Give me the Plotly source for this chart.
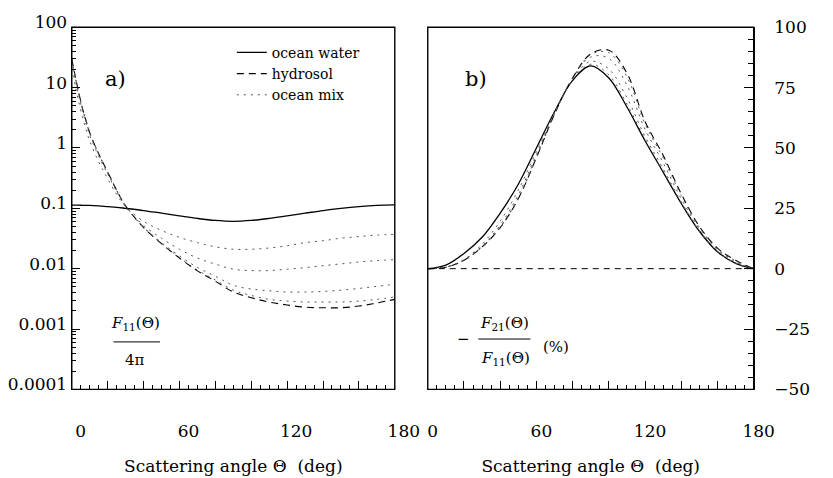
import plotly.graph_objects as go

# ---------------- data ----------------
# Panel a: F11/(4 pi) versus scattering angle
theta_a = [0, 2, 4, 6, 8, 10, 15, 20, 25, 30, 40, 50, 60, 70, 80, 90,
           100, 110, 120, 130, 140, 150, 160, 170, 180]
f11_water = [0.113, 0.113, 0.113, 0.112, 0.112, 0.112, 0.110, 0.107, 0.104, 0.100,
             0.092, 0.083, 0.075, 0.068, 0.063, 0.061, 0.063, 0.068, 0.075, 0.083,
             0.092, 0.100, 0.107, 0.112, 0.114]
f11_hydrosol = [30, 15, 8, 4.5, 2.8, 1.8, 0.8, 0.4, 0.2, 0.11,
                0.048, 0.026, 0.015, 0.0092, 0.0062, 0.0041, 0.0033, 0.0028, 0.0025, 0.0023,
                0.00225, 0.00225, 0.0024, 0.0027, 0.0031]
f11_mix1 = [21, 10.5, 5.6, 3.2, 2.0, 1.3, 0.59, 0.31, 0.17, 0.107,
            0.061, 0.043, 0.033, 0.027, 0.023, 0.021, 0.021, 0.022, 0.024, 0.027,
            0.029, 0.032, 0.034, 0.036, 0.037]
f11_mix2 = [27, 13.5, 7.2, 4.1, 2.5, 1.63, 0.73, 0.37, 0.19, 0.109,
            0.052, 0.032, 0.021, 0.015, 0.0119, 0.0098, 0.0093, 0.0093, 0.0098, 0.0104,
            0.0112, 0.0120, 0.0129, 0.0136, 0.0141]
f11_mix3 = [29.3, 14.7, 7.8, 4.4, 2.74, 1.76, 0.78, 0.39, 0.198, 0.11,
            0.049, 0.027, 0.0163, 0.0105, 0.0075, 0.0053, 0.0046, 0.0043, 0.0041, 0.0041,
            0.0042, 0.0044, 0.0047, 0.0051, 0.0055]
f11_mix4 = [29.8, 14.9, 7.95, 4.48, 2.79, 1.79, 0.8, 0.4, 0.2, 0.11,
            0.048, 0.026, 0.0153, 0.0095, 0.0065, 0.0044, 0.0036, 0.0031, 0.0029, 0.0028,
            0.0028, 0.0028, 0.0029, 0.0031, 0.0034]

# Panel b: -F21/F11 (%) versus scattering angle
theta_b = [0, 10, 20, 30, 40, 50, 60, 70, 80, 90, 100, 110, 120, 130, 140, 150, 160, 170, 180]
pol_water = [0, 1.5, 6.3, 13, 23, 35, 50, 65, 78, 84, 79, 67, 53, 40, 27, 15.5, 7, 2.2, 0]
pol_hydrosol = [0, 0.6, 3.5, 9, 17, 29, 46, 64, 79, 89, 90.5, 81, 61, 47, 31, 17.5, 8.5, 3.5, 0]
pol_mix1 = [0, 0.6, 3.8, 10.1, 19.7, 32.5, 48.7, 64.6, 78.2, 84.7, 80.3, 68.2, 53.6, 40.4, 27.2, 15.6, 7.1, 2.3, 0]
pol_mix2 = [0, 0.6, 3.6, 9.4, 18.1, 30.6, 47.4, 64.5, 78.5, 85.9, 82.7, 70.8, 54.8, 41.4, 27.7, 15.8, 7.3, 2.4, 0]
pol_mix3 = [0, 0.6, 3.5, 9.1, 17.3, 29.4, 46.4, 64.2, 78.8, 87.7, 87.1, 76.0, 57.8, 43.9, 28.9, 16.5, 7.8, 2.8, 0]
pol_mix4 = [0, 0.6, 3.5, 9.0, 17.1, 29.1, 46.1, 64.1, 78.9, 88.7, 89.5, 79.5, 60.0, 45.9, 30.3, 17.1, 8.2, 3.2, 0]

x_tickvals = [0, 20, 40, 60, 80, 100, 120, 140, 160, 180]
x_ticktext = ["0", "", "", "60", "", "", "120", "", "", "180"]

# ---------------- styling ----------------
FONT = "DejaVu Serif"
BLACK = "black"
SOLID = dict(color=BLACK, width=1.3)
DASH = dict(color=BLACK, width=1.1, dash="7px,5px")
DOT = dict(color="#555555", width=1.0, dash="2px,5px")

fig = go.Figure()
fig.add_trace(go.Scatter(x=theta_a, y=f11_water, mode="lines", line=SOLID,
                         name="ocean water", line_shape="spline", xaxis="x", yaxis="y"))
fig.add_trace(go.Scatter(x=theta_a, y=f11_hydrosol, mode="lines", line=DASH,
                         name="hydrosol", line_shape="spline", xaxis="x", yaxis="y"))
for i, ys in enumerate([f11_mix1, f11_mix2, f11_mix3, f11_mix4]):
    fig.add_trace(go.Scatter(x=theta_a, y=ys, mode="lines", line=DOT,
                             name="ocean mix", showlegend=(i == 0), line_shape="spline",
                             xaxis="x", yaxis="y"))
fig.add_trace(go.Scatter(x=theta_b, y=pol_water, mode="lines", line=SOLID, showlegend=False,
                         line_shape="spline", xaxis="x2", yaxis="y2"))
fig.add_trace(go.Scatter(x=theta_b, y=pol_hydrosol, mode="lines", line=DASH, showlegend=False,
                         line_shape="spline", xaxis="x2", yaxis="y2"))
for ys in [pol_mix1, pol_mix2, pol_mix3, pol_mix4]:
    fig.add_trace(go.Scatter(x=theta_b, y=ys, mode="lines", line=DOT, showlegend=False,
                             line_shape="spline", xaxis="x2", yaxis="y2"))

# zero reference line in panel b
fig.add_shape(type="line", xref="x2 domain", yref="y2", x0=0, x1=1, y0=0, y1=0,
              line=dict(color=BLACK, width=1, dash="6px,5px"))

W, H = 833, 478
ydom = [1 - 395 / H, 1 - 13 / H]
tf = dict(family=FONT, size=17, color=BLACK)
LINE = dict(showline=True, linecolor=BLACK, linewidth=1.4, showgrid=False, zeroline=False)
XTITLE = dict(text="Scattering angle \u0398  (deg)",
              font=dict(family=FONT, size=17, color=BLACK), standoff=20)


def x_axis(anchor, domain, shift):
    return dict(anchor=anchor, domain=domain, side="bottom", range=[0, 180],
                tickvals=x_tickvals, ticktext=x_ticktext,
                ticks="inside", ticklen=8, tickwidth=1, tickcolor=BLACK,
                minor=dict(ticks="inside", dtick=5, ticklen=4, tickwidth=1, tickcolor=BLACK),
                tickfont=tf, ticklabelstandoff=26, ticklabelshift=shift,
                title=XTITLE, **LINE)


fig.update_layout(
    width=W, height=H,
    margin=dict(l=0, r=0, t=0, b=0),
    paper_bgcolor="white", plot_bgcolor="rgba(0,0,0,0)",
    font=dict(family=FONT, color=BLACK),
    hovermode=False,
    xaxis=x_axis("y", [74 / W, 407 / W], 9),
    xaxis2=x_axis("y2", [441 / W, 777 / W], 5),
    yaxis=dict(anchor="x", domain=ydom, side="left", type="log", range=[-4, 2], dtick=1,
               exponentformat="none", ticks="inside", ticklen=8, tickwidth=1, tickcolor=BLACK,
               minor=dict(ticks="inside", dtick="D1", ticklen=4, tickwidth=1, tickcolor=BLACK),
               tickfont=tf, ticklabelshift=-5, **LINE),
    yaxis2=dict(anchor="x2", domain=ydom, side="right", range=[-50, 100], tick0=0, dtick=25,
                ticks="inside", ticklen=9, tickwidth=1, tickcolor=BLACK,
                minor=dict(ticks="inside", dtick=5, ticklen=5, tickwidth=1, tickcolor=BLACK),
                tickfont=tf, ticklabelstandoff=16, **LINE),
    showlegend=True,
    legend=dict(x=239 / W, y=1 - 23 / H, xanchor="left", yanchor="top",
                bgcolor="rgba(0,0,0,0)", font=dict(family=FONT, size=14, color=BLACK),
                tracegroupgap=0, itemwidth=30),
)

# closed frames around both panels
for xr, yr in [("x domain", "y domain"), ("x2 domain", "y2 domain")]:
    fig.add_shape(type="rect", xref=xr, yref=yr, x0=0, x1=1, y0=0, y1=1,
                  line=dict(color=BLACK, width=1.4), fillcolor="rgba(0,0,0,0)", layer="above")

ann_font = dict(family=FONT, size=15, color=BLACK)
big_font = dict(family=FONT, size=21, color=BLACK)
annotations = [
    dict(text="a)", x=0.135, y=0.856, xref="x domain", yref="y domain", font=big_font),
    dict(text="<i>F</i><sub>11</sub>(\u0398)", x=0.198, y=0.182, xref="x domain", yref="y domain", font=ann_font),
    dict(text="4\u03c0", x=0.195, y=0.081, xref="x domain", yref="y domain", font=ann_font),
    dict(text="b)", x=0.149, y=0.856, xref="x2 domain", yref="y2 domain", font=big_font),
    dict(text="\u2212", x=0.110, y=0.139, xref="x2 domain", yref="y2 domain", font=ann_font),
    dict(text="<i>F</i><sub>21</sub>(\u0398)", x=0.235, y=0.182, xref="x2 domain", yref="y2 domain", font=ann_font),
    dict(text="<i>F</i><sub>11</sub>(\u0398)", x=0.238, y=0.086, xref="x2 domain", yref="y2 domain", font=ann_font),
    dict(text="(%)", x=0.393, y=0.118, xref="x2 domain", yref="y2 domain", font=ann_font),
]
for a in annotations:
    a.update(showarrow=False, xanchor="center", yanchor="middle")
fig.update_layout(annotations=annotations)

fig.add_shape(type="line", xref="x domain", yref="y domain", x0=0.129, x1=0.273,
              y0=0.131, y1=0.131, line=dict(color=BLACK, width=1))
fig.add_shape(type="line", xref="x2 domain", yref="y2 domain", x0=0.155, x1=0.315,
              y0=0.139, y1=0.139, line=dict(color=BLACK, width=1))

fig.write_html("out.html")
